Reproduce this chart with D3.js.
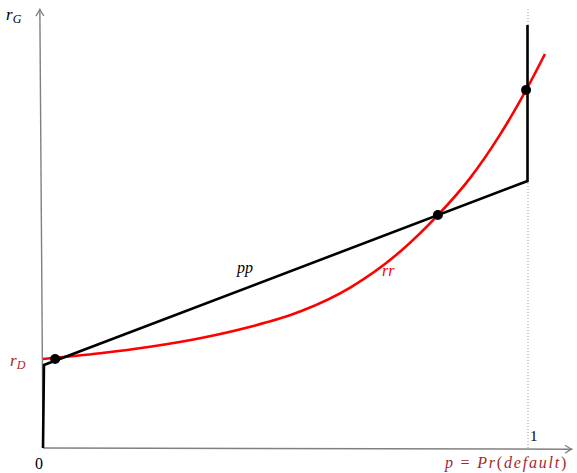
<!DOCTYPE html>
<html>
<head>
<meta charset="utf-8">
<script src="https://cdn.jsdelivr.net/npm/d3@7"></script>
<style>
  body { margin: 0; background: #fff; }
  svg text { font-family: "Liberation Serif", "DejaVu Serif", serif; }
</style>
</head>
<body>
<svg id="chart"></svg>
<script>
'use strict';

// red curve rr: p, r
var rrP = [0, 0.118, 0.221, 0.324, 0.428, 0.532, 0.635, 0.738, 0.815, 0.881, 0.943, 0.997, 1.036];
var rrR = [0.89, 0.947, 1.012, 1.097, 1.212, 1.367, 1.607, 1.967, 2.328, 2.696, 3.131, 3.578, 3.94];

// black curve pp
var ppP = [0, 0.002, 1, 1];
var ppR = [0, 0.83, 2.67, 4.23];

// intersection points
var dotP = [0.025, 0.815, 0.997];
var dotR = [0.89, 2.33, 3.58];

var width = 577, height = 473;

var svg = d3.select('#chart')
    .attr('width', width)
    .attr('height', height);

var x = d3.scaleLinear().domain([0, 1]).range([43, 527.5]);
var y = d3.scaleLinear().domain([0, 4.4]).range([448, 8]);

var grey = '#808080';
var maroon = '#a3282c';

// dotted line at p = 1
svg.append('line')
    .attr('x1', x(1) + 0.5).attr('x2', x(1) + 0.5)
    .attr('y1', y(0)).attr('y2', y(4.4))
    .attr('stroke', '#999')
    .attr('stroke-width', 1)
    .attr('stroke-dasharray', '1,2');

// axes
var axisLine = d3.line().x(function (d) { return x(d[0]); }).y(function (d) { return y(d[1]); });

svg.append('path')
    .attr('d', axisLine([[0, 0], [1.09, -0.012]]))
    .attr('stroke', grey).attr('stroke-width', 1.4).attr('fill', 'none');
svg.append('path')
    .attr('d', axisLine([[0, 0], [-0.0065, 4.38]]))
    .attr('stroke', grey).attr('stroke-width', 1.4).attr('fill', 'none');

// arrowheads
function arrow(tx, ty, angle) {
    svg.append('path')
        .attr('d', 'M-7,-4 Q-2,-0.6 0,0 Q-2,0.6 -7,4')
        .attr('transform', 'translate(' + tx + ',' + ty + ') rotate(' + angle + ')')
        .attr('stroke', grey).attr('stroke-width', 1.3)
        .attr('fill', 'none').attr('stroke-linejoin', 'round');
}
arrow(x(1.09) + 1, y(-0.012), 0);
arrow(x(-0.0065), y(4.38) - 1, -90.5);

// red curve
var rrData = rrP.map(function (p, i) { return [p, rrR[i]]; });
svg.append('path')
    .attr('d', d3.line()
        .x(function (d) { return x(d[0]); })
        .y(function (d) { return y(d[1]); })
        .curve(d3.curveMonotoneX)(rrData))
    .attr('stroke', '#ff0000')
    .attr('stroke-width', 2.6)
    .attr('fill', 'none');

// black curve
var ppData = ppP.map(function (p, i) { return [p, ppR[i]]; });
svg.append('path')
    .attr('d', d3.line()
        .x(function (d) { return x(d[0]); })
        .y(function (d) { return y(d[1]); })(ppData))
    .attr('stroke', '#000')
    .attr('stroke-width', 2.6)
    .attr('stroke-linejoin', 'miter')
    .attr('fill', 'none');

// dots
svg.selectAll('.dot')
    .data(dotP)
    .enter().append('circle')
    .attr('class', 'dot')
    .attr('cx', function (d) { return x(d); })
    .attr('cy', function (d, i) { return y(dotR[i]); })
    .attr('r', 5)
    .attr('fill', '#000');

// labels
function label(txt, px, py, color, size) {
    return svg.append('text')
        .attr('x', px).attr('y', py)
        .attr('fill', color)
        .attr('font-size', size)
        .attr('font-style', 'italic')
        .text(txt);
}

var rg = label('r', 6, 20, '#000', 17);
rg.append('tspan').attr('font-size', 12).attr('dy', 3).text('G');

var rd = label('r', 10, 366, maroon, 17);
rd.append('tspan').attr('font-size', 12).attr('dy', 3).text('D');

svg.append('text').attr('x', 35).attr('y', 469).attr('font-size', 16).attr('fill', '#000').text('0');
svg.append('text').attr('x', 530).attr('y', 441).attr('font-size', 15).attr('fill', '#000').text('1');

var xl = svg.append('text').attr('x', 445).attr('y', 468).attr('font-size', 16)
    .attr('letter-spacing', 1.8).attr('fill', maroon);
xl.append('tspan').attr('font-style', 'italic').text('p');
xl.append('tspan').text(' = ');
xl.append('tspan').attr('font-style', 'italic').text('Pr');
xl.append('tspan').text('(');
xl.append('tspan').attr('font-style', 'italic').text('default');
xl.append('tspan').text(')');

label('pp', 237, 273, '#000', 16);
label('rr', 382, 276, '#ff0000', 16);
</script>
</body>
</html>
